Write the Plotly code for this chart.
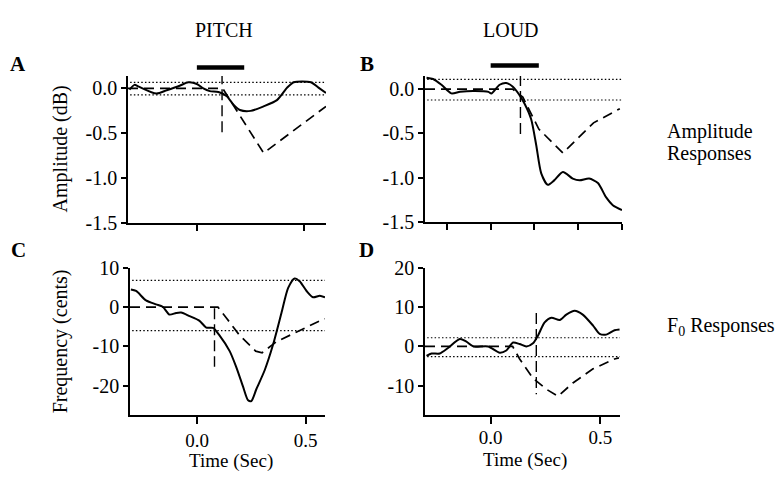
import plotly.graph_objects as go

# ---------------- data ----------------
# Panel A (PITCH, amplitude response, dB)
a_t = [-0.313, -0.29, -0.27, -0.188, -0.14, -0.08, -0.04, 0.0, 0.03, 0.06, 0.10, 0.139, 0.17, 0.20, 0.25, 0.31, 0.372, 0.42, 0.45, 0.53, 0.565, 0.60]
a_v = [-0.014, 0.04, 0.02, -0.057, -0.02, 0.03, 0.068, 0.05, 0.0, -0.03, -0.04, -0.086, -0.18, -0.24, -0.25, -0.20, -0.13, 0.01, 0.07, 0.07, 0.01, -0.05]
a_model_t = [-0.32, 0.12, 0.31, 0.60]
a_model_v = [0.0, 0.0, -0.72, -0.20]
a_thresh = [0.067, -0.072]
a_onset = 0.117
a_onset_span = [0.17, -0.49]

# Panel B (LOUD, amplitude response, dB)
b_t = [-0.293, -0.263, -0.225, -0.18, -0.14, -0.08, -0.01, 0.003, 0.041, 0.071, 0.10, 0.129, 0.155, 0.185, 0.208, 0.231, 0.261, 0.29, 0.33, 0.375, 0.406, 0.45, 0.49, 0.527, 0.558, 0.60]
b_v = [0.13, 0.115, 0.05, -0.047, -0.03, -0.02, -0.03, -0.05, 0.05, 0.07, 0.03, -0.057, -0.165, -0.34, -0.63, -0.95, -1.08, -1.03, -0.935, -1.01, -1.03, -1.01, -1.06, -1.22, -1.31, -1.365]
b_model_t = [-0.30, 0.10, 0.147, 0.22, 0.33, 0.41, 0.47, 0.59]
b_model_v = [0.0, 0.0, -0.09, -0.45, -0.72, -0.52, -0.38, -0.22]
b_thresh = [0.11, -0.122]
b_onset = 0.136
b_onset_span = [0.16, -0.52]

# Panel C (PITCH, F0 response, cents)
c_t = [-0.306, -0.282, -0.236, -0.19, -0.159, -0.128, -0.097, -0.074, -0.035, 0.011, 0.042, 0.073, 0.103, 0.15, 0.18, 0.211, 0.235, 0.25, 0.273, 0.312, 0.35, 0.389, 0.42, 0.45, 0.474, 0.505, 0.535, 0.566, 0.59]
c_v = [4.5, 4.1, 1.7, 0.7, 0.1, -1.9, -1.5, -1.4, -2.3, -3.5, -5.2, -5.3, -7.2, -11.2, -15.2, -20.1, -23.7, -23.9, -20.9, -16.0, -9.6, -1.5, 4.9, 7.3, 6.5, 4.1, 2.5, 2.9, 2.5]
c_model_t = [-0.31, 0.096, 0.134, 0.196, 0.27, 0.30, 0.366, 0.47, 0.566, 0.59]
c_model_v = [0.0, 0.0, -2.7, -7.2, -11.2, -11.6, -8.8, -6.0, -3.5, -3.0]
c_thresh = [6.8, -6.0]
c_onset = 0.08
c_onset_span = [-0.3, -15.2]

# Panel D (LOUD, F0 response, cents)
d_t = [-0.293, -0.27, -0.233, -0.195, -0.141, -0.111, -0.08, -0.012, 0.041, 0.071, 0.102, 0.132, 0.163, 0.193, 0.216, 0.246, 0.277, 0.315, 0.345, 0.383, 0.42, 0.467, 0.497, 0.527, 0.565, 0.588]
d_v = [-2.4, -1.8, -1.8, -0.4, 1.9, 1.2, 0.0, 0.0, -1.6, -1.05, 1.0, 0.6, 0.0, 0.8, 2.8, 6.1, 7.3, 6.7, 8.1, 9.1, 8.1, 5.3, 3.2, 3.0, 4.1, 4.3]
d_model_t = [-0.30, 0.10, 0.132, 0.193, 0.254, 0.307, 0.375, 0.467, 0.565, 0.585]
d_model_v = [0.0, 0.0, -3.2, -8.1, -10.9, -12.7, -9.3, -5.7, -3.2, -2.9]
d_thresh = [2.2, -2.6]
d_onset = 0.208
d_onset_span = [8.5, -12.2]

stim_period = [0.0, 0.22]

amp_ticks = [0.0, -0.5, -1.0, -1.5]
amp_ticktext = ["0.0", "-0.5", "-1.0", "-1.5"]
c_ticks = [10, 0, -10, -20]
c_ticktext = ["10", "0", "-10", "-20"]
d_ticks = [20, 10, 0, -10]
d_ticktext = ["20", "10", "0", "-10"]
time_ticks = [0.0, 0.5]
time_ticktext = ["0.0", "0.5"]
b_time_ticks = [-0.2, 0.0, 0.2, 0.4, 0.6]

# ---------------- figure ----------------
W, H = 777, 485
FONT = "Liberation Serif"
fig = go.Figure()

panels = [
    dict(ax="", t=a_t, v=a_v, mt=a_model_t, mv=a_model_v, th=a_thresh, on=a_onset, span=a_onset_span, xr=[-0.32, 0.60]),
    dict(ax="2", t=b_t, v=b_v, mt=b_model_t, mv=b_model_v, th=b_thresh, on=b_onset, span=b_onset_span, xr=[-0.30, 0.60]),
    dict(ax="3", t=c_t, v=c_v, mt=c_model_t, mv=c_model_v, th=c_thresh, on=c_onset, span=c_onset_span, xr=[-0.31, 0.59]),
    dict(ax="4", t=d_t, v=d_v, mt=d_model_t, mv=d_model_v, th=d_thresh, on=d_onset, span=d_onset_span, xr=[-0.30, 0.59]),
]

for p in panels:
    xa, ya = "x" + p["ax"], "y" + p["ax"]
    lo, hi = p["xr"][0] + 0.01, p["xr"][1]
    for th in p["th"]:
        fig.add_trace(go.Scatter(x=[lo, hi], y=[th, th], mode="lines", xaxis=xa, yaxis=ya,
                                 line=dict(color="black", width=1.2, dash="1.5px,2.2px"), showlegend=False, hoverinfo="skip"))
    fig.add_trace(go.Scatter(x=p["mt"], y=p["mv"], mode="lines", xaxis=xa, yaxis=ya,
                             line=dict(color="black", width=1.7, dash="10px,6px"), showlegend=False, hoverinfo="skip"))
    fig.add_trace(go.Scatter(x=[p["on"], p["on"]], y=p["span"], mode="lines", xaxis=xa, yaxis=ya,
                             line=dict(color="black", width=1.4, dash="11px,5px"), showlegend=False, hoverinfo="skip"))
    fig.add_trace(go.Scatter(x=p["t"], y=p["v"], mode="lines", xaxis=xa, yaxis=ya,
                             line=dict(color="black", width=2, shape="spline", smoothing=0.7), showlegend=False, hoverinfo="skip"))

# stimulus bars above panels A and B
fig.add_shape(type="line", xref="x", yref="y domain", x0=stim_period[0], x1=stim_period[1], y0=1.058, y1=1.058,
              line=dict(color="black", width=4.5))
fig.add_shape(type="line", xref="x2", yref="y2 domain", x0=stim_period[0], x1=stim_period[1], y0=1.072, y1=1.072,
              line=dict(color="black", width=4.5))

def px(x0, x1):
    return [x0 / W, x1 / W]

def py(top, bottom):
    return [1 - bottom / H, 1 - top / H]

axis_common = dict(showline=True, linecolor="black", linewidth=1.5, ticks="outside", tickcolor="black",
                   tickwidth=1.5, showgrid=False, zeroline=False, fixedrange=True)
yfont = dict(family=FONT, size=20, color="black")
xfont = dict(family=FONT, size=19, color="black")

layout = dict(
    width=W, height=H, margin=dict(l=0, r=0, t=0, b=0),
    paper_bgcolor="white", plot_bgcolor="white", showlegend=False,
    font=dict(family=FONT, size=19, color="black"),
    xaxis=dict(domain=px(128, 326), range=[-0.32, 0.60], anchor="y", tickvals=time_ticks, showticklabels=False, ticklen=6,
               tickfont=xfont, **axis_common),
    yaxis=dict(domain=py(68, 222), range=[-1.5, 0.14], anchor="x", tickvals=amp_ticks, ticktext=amp_ticktext, ticklen=5,
               tickfont=yfont, **axis_common),
    xaxis2=dict(domain=px(425, 622), range=[-0.30, 0.60], anchor="y2", tickvals=b_time_ticks, showticklabels=False, ticklen=6,
                tickfont=xfont, **axis_common),
    yaxis2=dict(domain=py(68, 221), range=[-1.5, 0.15], anchor="x2", tickvals=amp_ticks, ticktext=amp_ticktext, ticklen=5,
                tickfont=yfont, **axis_common),
    xaxis3=dict(domain=px(130, 325), range=[-0.31, 0.59], anchor="y3", tickvals=time_ticks, ticktext=time_ticktext, ticklen=7,
                ticklabelstandoff=1, tickfont=xfont, **axis_common),
    yaxis3=dict(domain=py(269, 423), range=[-27.4, 10], anchor="x3", tickvals=c_ticks, ticktext=c_ticktext, ticklen=5,
                tickfont=yfont, **axis_common),
    xaxis4=dict(domain=px(425, 620), range=[-0.30, 0.59], anchor="y4", tickvals=time_ticks, ticktext=time_ticktext, ticklen=7,
                ticklabelstandoff=-2, tickfont=xfont, **axis_common),
    yaxis4=dict(domain=py(269, 423), range=[-17.4, 20], anchor="x4", tickvals=d_ticks, ticktext=d_ticktext, ticklen=5,
                tickfont=yfont, **axis_common),
)
fig.update_layout(**layout)

def note(text, x, y, size=19, angle=0, xanchor="center", bold=False):
    fig.add_annotation(text=("<b>%s</b>" % text) if bold else text, x=x / W, y=1 - y / H, xref="paper", yref="paper",
                       showarrow=False, textangle=angle, xanchor=xanchor, yanchor="middle",
                       font=dict(family=FONT, size=size, color="black"))

note("PITCH", 224, 20, size=20)
note("LOUD", 511, 20, size=20)
note("A", 18, 55, size=21, bold=True)
note("B", 367, 55, size=21, bold=True)
note("C", 18, 250, size=21, bold=True)
note("D", 366, 250, size=21, bold=True)
note("Amplitude (dB)", 60, 145, size=20, angle=-90)
note("Frequency (cents)", 60, 346, size=20, angle=-90)
note("Time (Sec)", 231, 471, size=19)
note("Time (Sec)", 525, 470, size=19)
note("Amplitude", 665, 126, size=20, xanchor="left")
note("Responses", 665, 149, size=20, xanchor="left")
note("F<sub>0</sub> Responses", 665, 331, size=20, xanchor="left")

fig.write_html("out.html")
